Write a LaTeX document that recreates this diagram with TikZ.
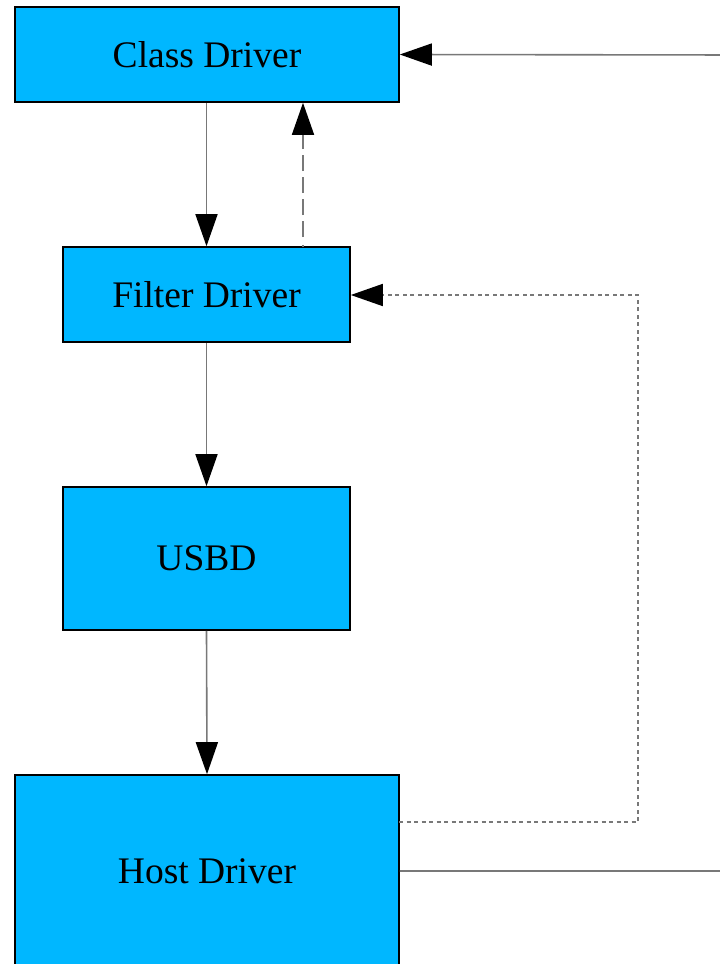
\documentclass[tikz,border=0pt]{standalone}
\usepackage{fontspec}
\setmainfont{Liberation Serif}
\usetikzlibrary{arrows.meta}
\definecolor{boxfill}{RGB}{0,183,255}
\definecolor{wire}{RGB}{120,120,120}
\tikzset{
  block/.style={draw=black, line width=1.6pt, fill=boxfill, inner sep=0pt,
    font=\fontsize{37.5}{44}\selectfont},
  link/.style={draw=wire, line width=1.6pt,
    -{Triangle[length=32pt,width=22pt,fill=black,color=black]}},
  dotline/.style={dash pattern=on 4pt off 3.5pt},
  dashdot/.style={dash pattern=on 2pt off 8pt on 16pt off 6pt on 16pt off 6pt on 16pt off 6pt on 16pt off 6pt on 16pt off 6pt}
}
\begin{document}
\begin{tikzpicture}[x=1pt,y=-1pt]
  \useasboundingbox (0,0) rectangle (720,964);
  \clip (0,0) rectangle (720,964);
  % driver stack
  \node[block, minimum width=384pt, minimum height=95pt] (class) at (207,54.5) {Class Driver};
  \node[block, minimum width=287pt, minimum height=95pt] (filter) at (206.5,294.5) {Filter Driver};
  \node[block, minimum width=287pt, minimum height=143pt] (usbd) at (206.5,558.5) {USBD};
  \node[block, minimum width=384pt, minimum height=192pt] (host) at (207,871) {Host Driver};
  % downward request path
  \draw[link] (class.south -| filter.north) -- (filter.north);
  \draw[link] (filter.south) -- (usbd.north);
  \draw[link] (usbd.south) -- (host.north);
  % completion back to the class driver from the filter
  \coordinate (fup) at (303,247);
  \draw[link, dashdot] (fup) -- (fup |- class.south);
  % completion from host driver to the filter driver
  \coordinate (hd) at (399,822);
  \coordinate (dr) at (638,822);
  \coordinate (ur) at (638,295);
  \draw[link, dotline] (hd) -- (dr) -- (ur) -- (ur -| filter.east);
  % completion from host driver to the class driver, routed off the right side
  \coordinate (far1) at (740,871);
  \coordinate (far2) at (740,55);
  \draw[link] (host.east) -- (far1) -- (far2) -- (class.east);
\end{tikzpicture}
\end{document}
